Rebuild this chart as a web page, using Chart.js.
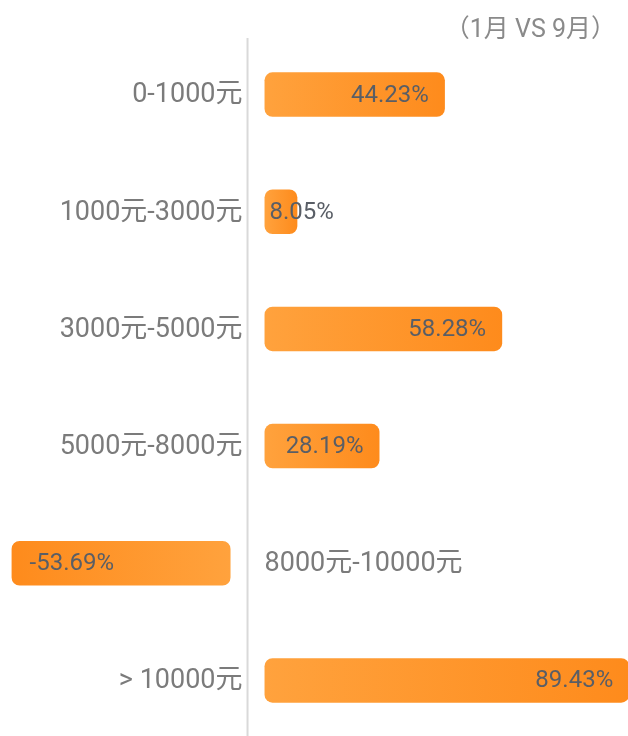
<!DOCTYPE html>
<html>
<head>
<meta charset="utf-8">
<script src="https://cdn.jsdelivr.net/npm/chart.js@4.4.1/dist/chart.umd.min.js"></script>
<style>
  html, body { margin: 0; padding: 0; background: #fff; overflow: hidden; }
  .wrap { position: relative; width: 628px; height: 736px; overflow: hidden; }
  .titulo {
    position: absolute; top: 8px; right: 12px;
    font: 25px Roboto, "Noto Sans CJK SC", sans-serif; color: #8a8a8a;
  }
</style>
</head>
<body>
<div class="wrap">
  <div class="titulo">（1月 VS 9月）</div>
  <canvas id="grafica" width="628" height="739"></canvas>
</div>
<script>
// rangos de precio y variación (%) 1月 vs 9月
const rangos = ['0-1000元', '1000元-3000元', '3000元-5000元', '5000元-8000元', '8000元-10000元', '> 10000元'];
const variacion = [44.23, 8.05, 58.28, 28.19, -53.69, 89.43];

const HUECO = 17; // separación entre el eje y la barra

function degradado(context) {
  const chart = context.chart;
  const x = chart.scales.x;
  if (!chart.chartArea || !x) return '#ff9a30';
  const v = context.raw;
  const s = v >= 0 ? 1 : -1;
  const x0 = x.getPixelForValue(0) + s * HUECO;
  const x1 = x.getPixelForValue(v) + s * HUECO;
  const g = chart.ctx.createLinearGradient(x0, 0, x1, 0);
  g.addColorStop(0, '#ffa23d');
  g.addColorStop(1, '#fe8b1c');
  return g;
}

// desplaza las barras para dejar el hueco junto al eje
const desplazarBarras = {
  id: 'desplazarBarras',
  afterDatasetsUpdate(chart) {
    const meta = chart.getDatasetMeta(0);
    meta.data.forEach((bar, i) => {
      const s = variacion[i] >= 0 ? 1 : -1;
      bar.x += s * HUECO;
      bar.base += s * HUECO;
    });
  }
};

const etiquetas = {
  id: 'etiquetas',
  beforeDatasetsDraw(chart) {
    const ctx = chart.ctx;
    const x0 = chart.scales.x.getPixelForValue(0);
    const area = chart.chartArea;
    ctx.save();
    ctx.strokeStyle = '#d9d9d9';
    ctx.lineWidth = 2;
    ctx.beginPath();
    ctx.moveTo(x0, area.top + 2);
    ctx.lineTo(x0, area.bottom);
    ctx.stroke();
    ctx.restore();
  },
  afterDatasetsDraw(chart) {
    const ctx = chart.ctx;
    const x0 = chart.scales.x.getPixelForValue(0);
    const meta = chart.getDatasetMeta(0);
    ctx.save();
    ctx.textBaseline = 'middle';
    meta.data.forEach((bar, i) => {
      const v = variacion[i];
      // nombre del rango
      ctx.font = '27px Roboto, "Noto Sans CJK SC", sans-serif';
      ctx.fillStyle = '#7b7b7b';
      if (v >= 0) {
        ctx.textAlign = 'right';
        ctx.fillText(rangos[i], x0 - 5, bar.y + 1);
      } else {
        ctx.textAlign = 'left';
        ctx.fillText(rangos[i], x0 + 17, bar.y + 1);
      }
      // valor
      const txt = v.toFixed(2) + '%';
      ctx.font = '24px Roboto, "Noto Sans CJK SC", sans-serif';
      ctx.fillStyle = '#595e66';
      const w = ctx.measureText(txt).width;
      if (v >= 0) {
        const largo = bar.x - bar.base;
        if (w + 34 <= largo) {
          ctx.textAlign = 'right';
          ctx.fillText(txt, bar.x - 16, bar.y + 1);
        } else {
          ctx.textAlign = 'left';
          ctx.fillText(txt, bar.base + 5, bar.y + 1);
        }
      } else {
        ctx.textAlign = 'left';
        ctx.fillText(txt, bar.x + 18, bar.y + 1);
      }
    });
    ctx.restore();
  }
};

new Chart(document.getElementById('grafica').getContext('2d'), {
  type: 'bar',
  data: {
    labels: rangos,
    datasets: [{
      data: variacion,
      backgroundColor: degradado,
      borderRadius: 8,
      borderSkipped: false,
      categoryPercentage: 1,
      barPercentage: 0.38
    }]
  },
  options: {
    indexAxis: 'y',
    responsive: false,
    animation: false,
    layout: { padding: { top: 36, left: 0, right: 0, bottom: 0 } },
    plugins: {
      legend: { display: false },
      tooltip: { enabled: false }
    },
    scales: {
      x: { display: false, min: -60.7, max: 93.3 },
      y: { display: false }
    }
  },
  plugins: [desplazarBarras, etiquetas]
});
</script>
</body>
</html>
